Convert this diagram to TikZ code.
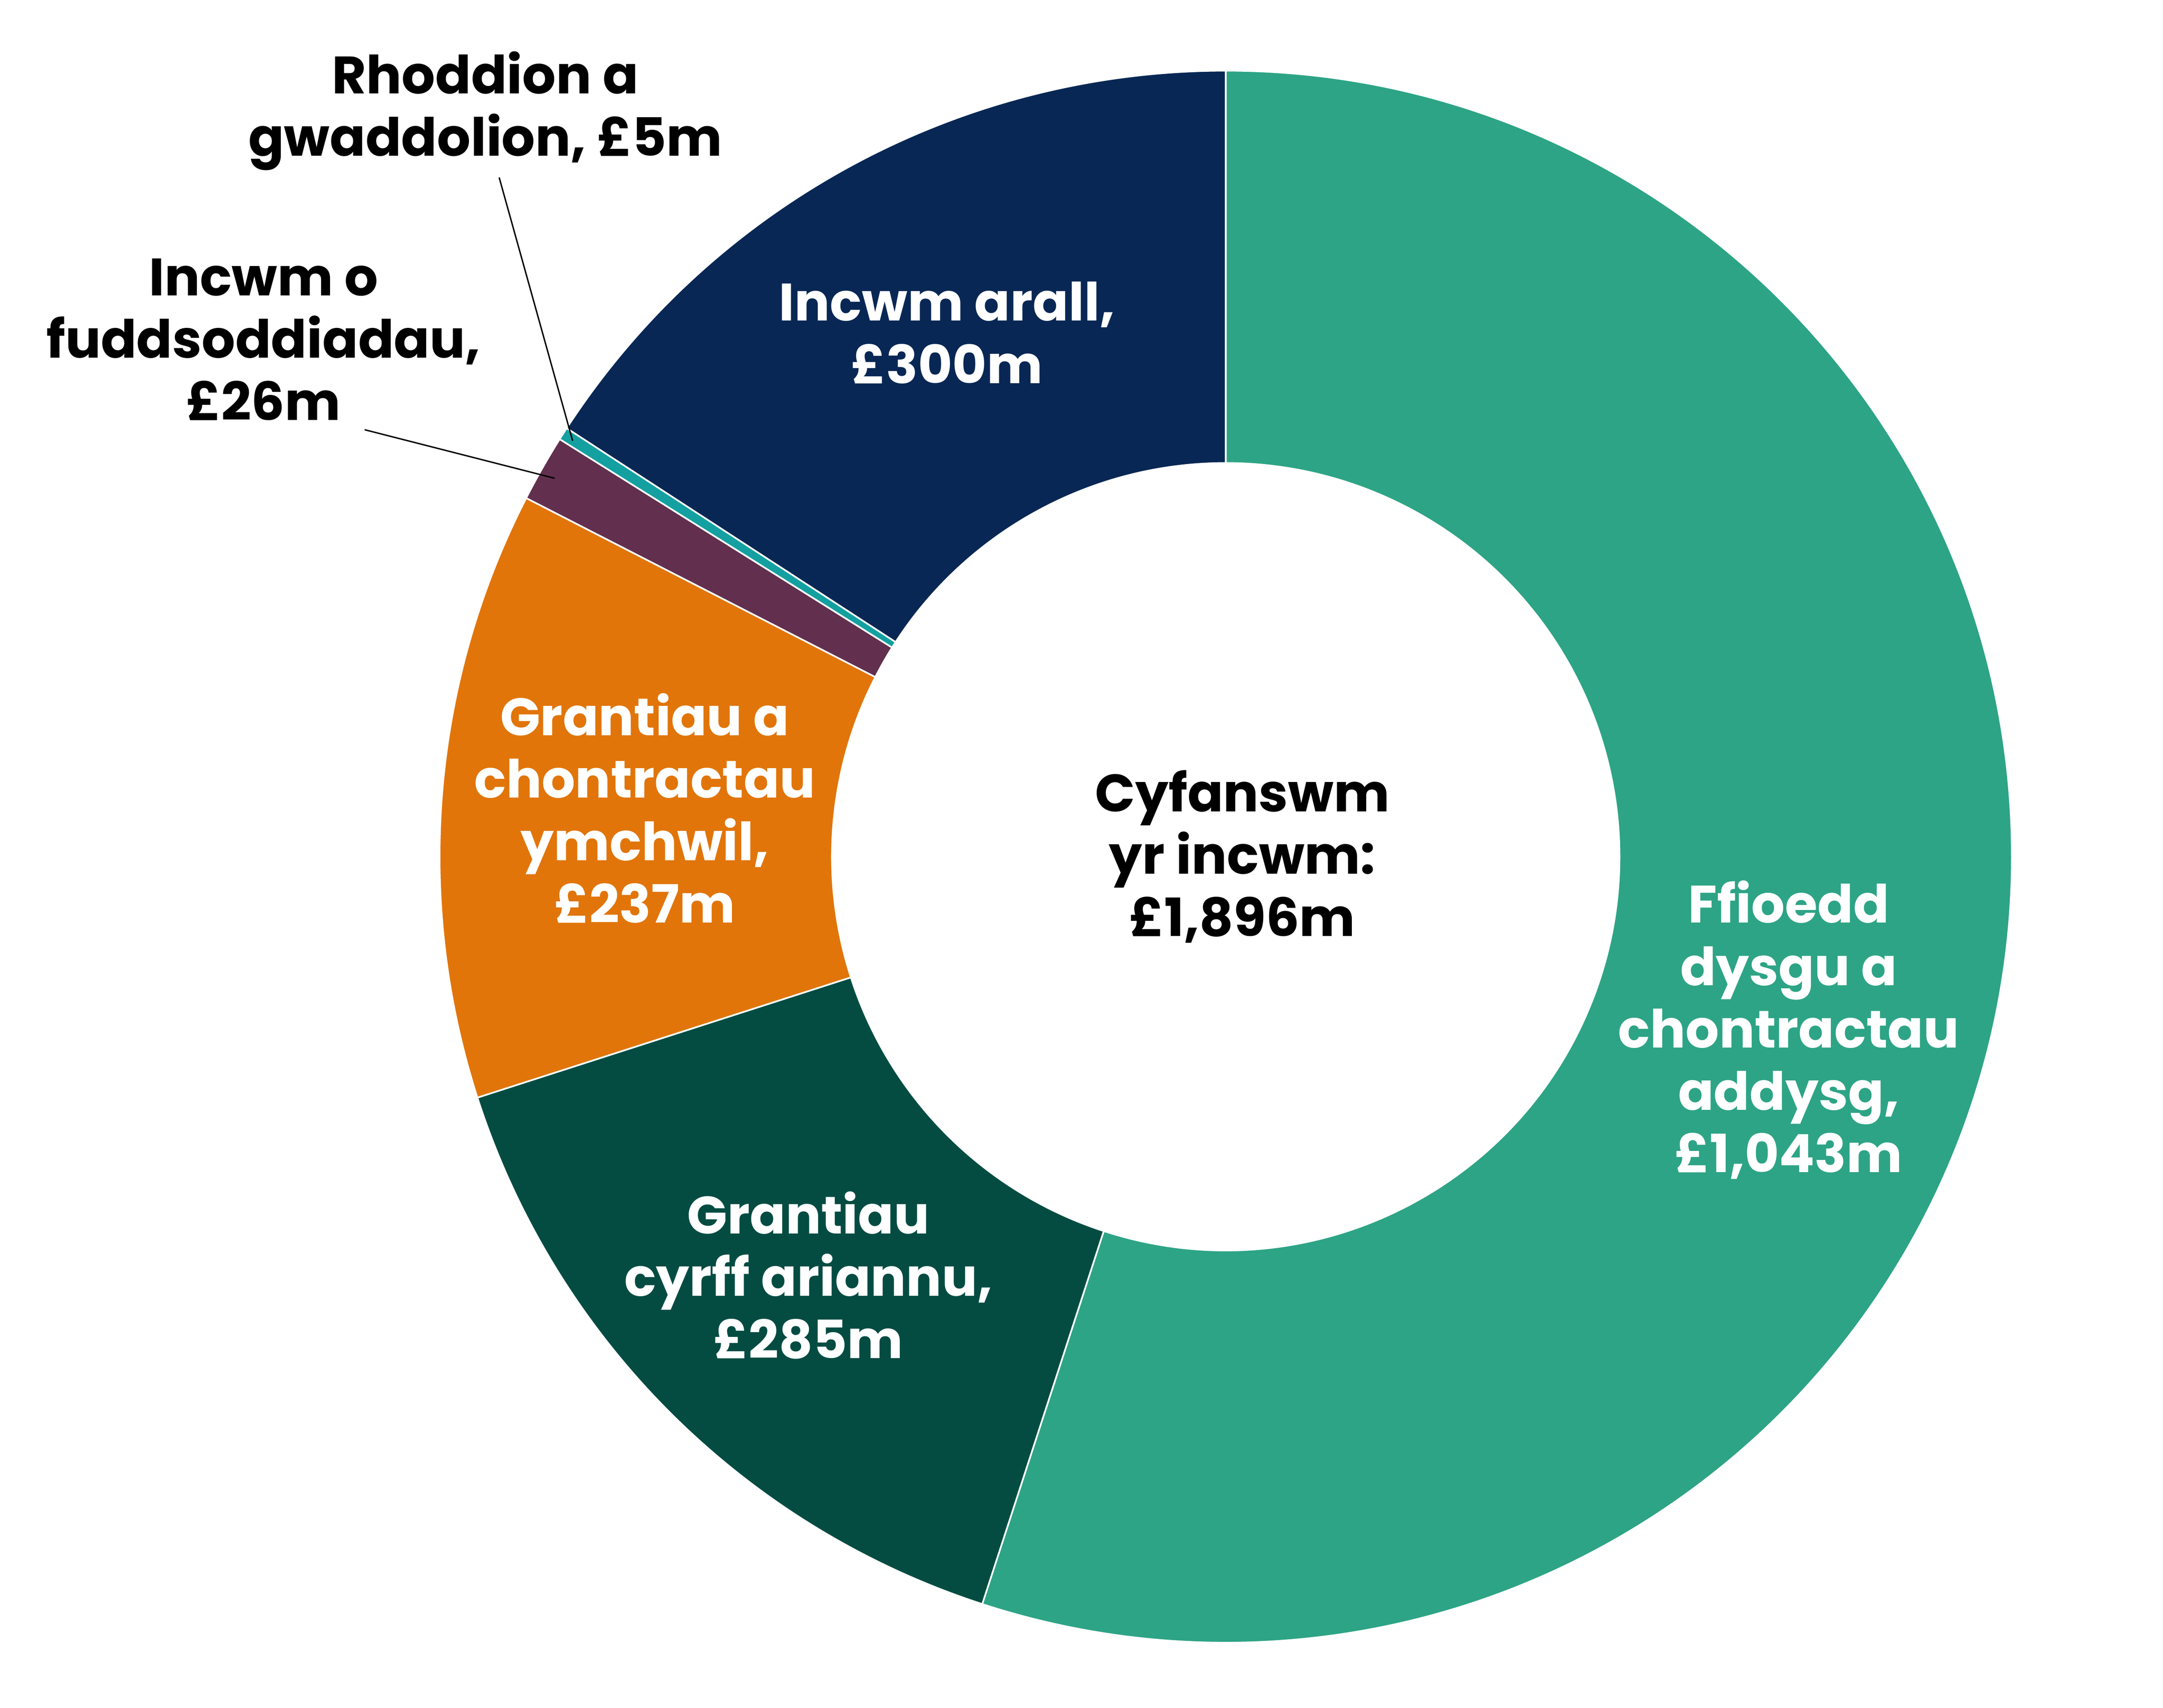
\documentclass[tikz,border=0pt]{standalone}
\usepackage{fontspec}
\setmainfont{Poppins}
\usetikzlibrary{calc}
\definecolor{ffioedd}{HTML}{2DA485}
\definecolor{cyrff}{HTML}{044C42}
\definecolor{ymchwil}{HTML}{E1750A}
\definecolor{buddsoddi}{HTML}{622F4E}
\definecolor{rhoddion}{HTML}{14A0A0}
\definecolor{arall}{HTML}{082754}
\tikzset{every picture/.style={line width=0.75pt}}
\tikzset{
  lbl/.style={align=center,font=\fontsize{19}{22.5}\selectfont\bfseries,inner sep=0pt},
  wlbl/.style={lbl,text=white},
  slice/.style={draw=white,line width=0.6pt},
}
\begin{document}
\begin{tikzpicture}[x=0.5pt,y=0.5pt]
\useasboundingbox (0,0) rectangle (1560,1232);
\coordinate (c) at (884,614);
% donut slices: start angle, end angle, colour
\foreach \a/\b/\col in {90/-108.04/ffioedd, -108.04/-162.15/cyrff, -162.15/-207.15/ymchwil,
  -207.15/-212.09/buddsoddi, -212.09/-213.04/rhoddion, -213.04/-270/arall}{
  \filldraw [slice,fill=\col] ($(c)+(\a:567)$) arc (\a:\b:567) -- ($(c)+(\b:284)$) arc (\b:\a:284) -- cycle;
}
% Text Node
\node [wlbl] (arall) at (683,992) {Incwm arall,\\£300m};
\node [wlbl] (ffioedd) at (1290,489) {Ffioedd\\dysgu a\\chontractau\\addysg,\\£1,043m};
\node [wlbl] (cyrff) at (583,312) {Grantiau\\cyrff ariannu,\\£285m};
\node [wlbl] (ymchwil) at (465,649) {Grantiau a\\chontractau\\ymchwil,\\£237m};
\node [lbl] (cyfanswm) at (896,614) {Cyfanswm\\yr incwm:\\£1,896m};
\node [lbl] (rhoddion) at (350,1152) {Rhoddion a\\gwaddolion, £5m};
\node [lbl] (buddsoddi) at (190,987) {Incwm o\\fuddsoddiadau,\\£26m};
% leader lines
\coordinate (rhoddionStart) at (360,1104);
\coordinate (rhoddionEnd) at (413,914);
\coordinate (buddsoddiStart) at (263,922);
\coordinate (buddsoddiEnd) at (400,887);
\draw [line width=0.5pt] (rhoddionStart) -- (rhoddionEnd);
\draw [line width=0.5pt] (buddsoddiStart) -- (buddsoddiEnd);
\end{tikzpicture}
\end{document}
